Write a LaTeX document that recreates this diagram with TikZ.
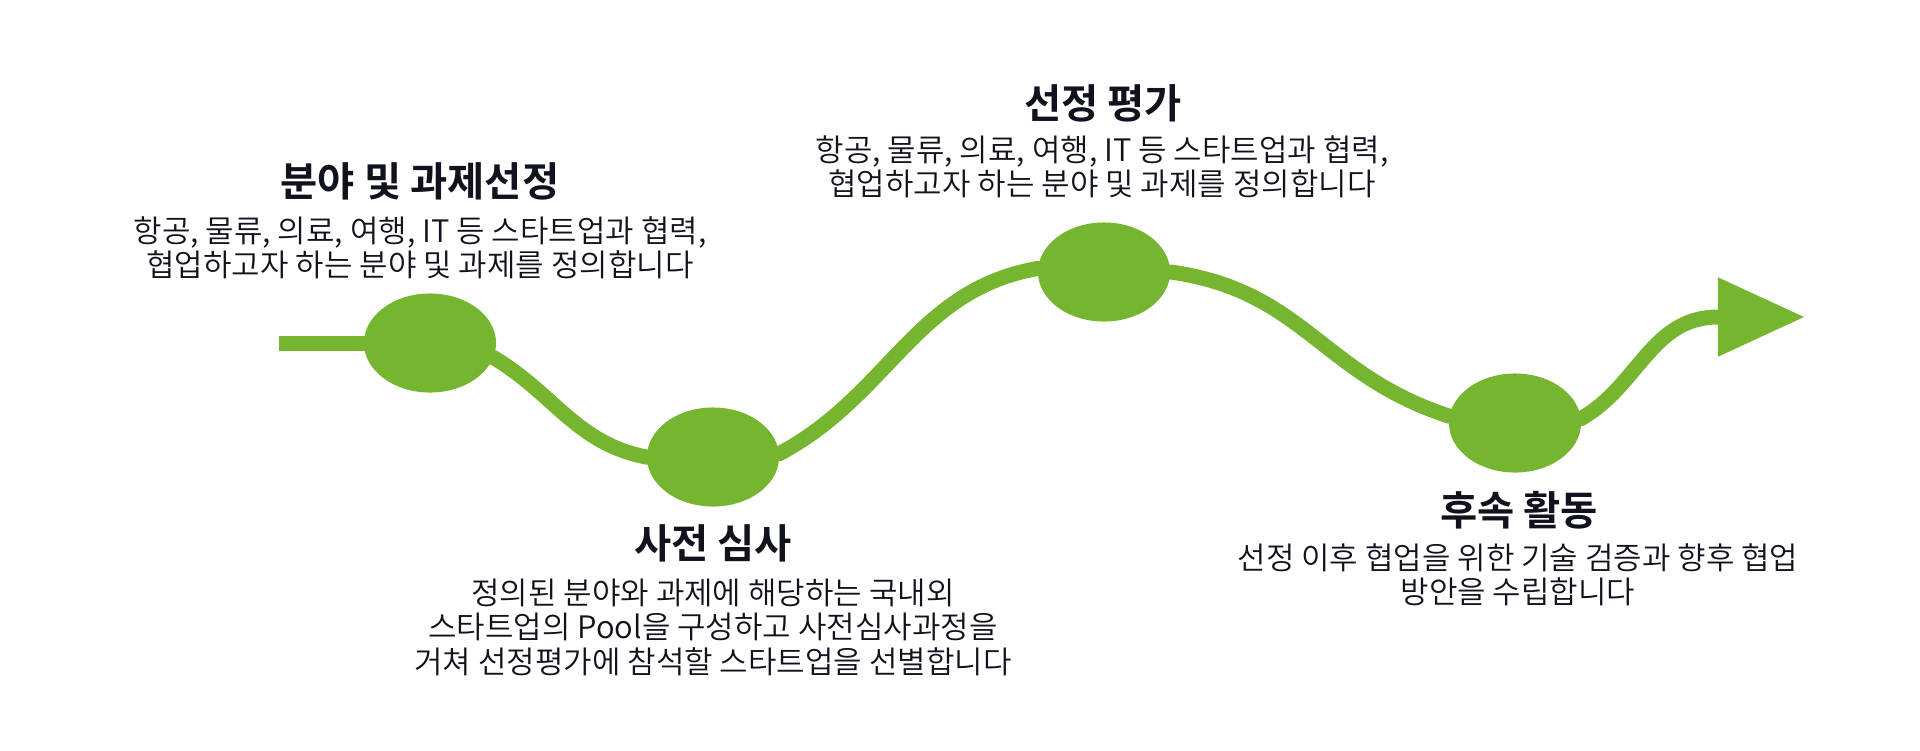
\documentclass[tikz,border=0pt]{standalone}
\usepackage{fontspec}
\setmainfont{Noto Sans CJK KR DemiLight}[BoldFont={Noto Sans CJK KR Bold}]
\usetikzlibrary{shapes.geometric,arrows.meta,backgrounds}
\definecolor{leaf}{HTML}{76B52F}
\definecolor{ink}{HTML}{10131E}
\begin{document}
\begin{tikzpicture}[x=0.01cm,y=0.01cm,
    stage/.style={ellipse,fill=leaf,minimum width=1.32cm,minimum height=0.99cm,inner sep=0pt},
    road/.style={draw=leaf,line width=0.15cm},
    headline/.style={text=ink,font=\bfseries\fontsize{11.5pt}{13pt}\selectfont},
    blurb/.style={text=ink,align=center,font=\fontsize{8.8pt}{9.8pt}\selectfont}]
  \useasboundingbox (0,0) rectangle (1920,750);

  % stages
  \node[stage] (c1) at (430,407) {};
  \node[stage] (c2) at (713,293) {};
  \node[stage] (c3) at (1104,478) {};
  \node[stage] (c4) at (1515,327) {};
  \coordinate (start) at (279,407);
  \coordinate (base) at (1718,433);
  \coordinate (tip) at (1805,433);

  % the road between them, behind the stages
  \begin{scope}[on background layer]
    \draw[road] (start) -- (c1.center);
    \draw[road] (c1.center) -- (c1.-13) to[out=-31,in=169] (c2.west) -- (c2.center);
    \draw[road] (c2.center) -- (c2.3) to[out=28,in=190] (c3.177) -- (c3.center);
    \draw[road] (c3.center) -- (c3.east) to[out=-8,in=162,looseness=1.1] (c4.174) -- (c4.center);
    \draw[road,-{Triangle[length=0.87cm,width=0.75cm]}] (c4.center) -- (c4.4) to[out=30,in=180] (base) -- (tip);
  \end{scope}

  % texts
  \node[headline] (t1) at (420,569) {분야 및 과제선정};
  \node[blurb] (b1) at (420,502) {항공, 물류, 의료, 여행, IT 등 스타트업과 협력,\\협업하고자 하는 분야 및 과제를 정의합니다};
  \node[headline] (t2) at (713,207) {사전 심사};
  \node[blurb] (b2) at (713,123) {정의된 분야와 과제에 해당하는 국내외\\스타트업의 Pool을 구성하고 사전심사과정을\\거쳐 선정평가에 참석할 스타트업을 선별합니다};
  \node[headline] (t3) at (1103,647) {선정 평가};
  \node[blurb] (b3) at (1102,583) {항공, 물류, 의료, 여행, IT 등 스타트업과 협력,\\협업하고자 하는 분야 및 과제를 정의합니다};
  \node[headline] (t4) at (1519,240) {후속 활동};
  \node[blurb] (b4) at (1518,175) {선정 이후 협업을 위한 기술 검증과 향후 협업\\방안을 수립합니다};
\end{tikzpicture}
\end{document}
